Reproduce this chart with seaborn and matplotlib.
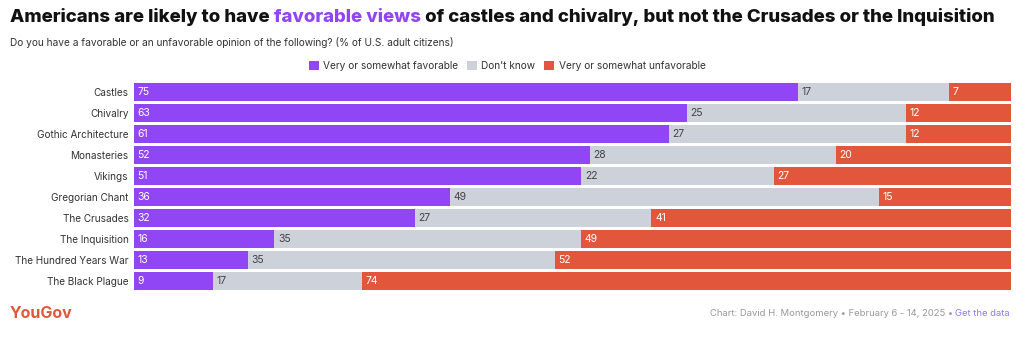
import matplotlib
matplotlib.use("Agg")
import matplotlib.pyplot as plt
import seaborn as sns
import pandas as pd
import numpy as np
from matplotlib.patches import Patch

categories = ["Castles", "Chivalry", "Gothic Architecture", "Monasteries", "Vikings",
              "Gregorian Chant", "The Crusades", "The Inquisition",
              "The Hundred Years War", "The Black Plague"]
favorable = [75, 63, 61, 52, 51, 36, 32, 16, 13, 9]
dont_know = [17, 25, 27, 28, 22, 49, 27, 35, 35, 17]
unfavorable = [7, 12, 12, 20, 27, 15, 41, 49, 52, 74]
series_names = ["Very or somewhat favorable", "Don't know", "Very or somewhat unfavorable"]

PURPLE = "#9146F5"
GRAY = "#CDD1DA"
RED = "#E2573B"

sns.set_theme(style="white")
plt.rcParams['font.family'] = ['Inter', 'DejaVu Sans']

fav = np.array(favorable, float)
dk = np.array(dont_know, float)
unf = np.array(unfavorable, float)
tot = fav + dk + unf
df = pd.DataFrame({
    "cat": categories,
    "c1": fav / tot * 100,
    "c2": (fav + dk) / tot * 100,
    "c3": np.full(len(categories), 100.0),
})

fig = plt.figure(figsize=(10.23, 3.4), dpi=100)
ax = fig.add_axes([134/1023, 1 - 291.5/340, (1011-134)/1023, 210/340])

for col, color in [("c3", RED), ("c2", GRAY), ("c1", PURPLE)]:
    sns.barplot(data=df, x=col, y="cat", color=color, orient="h", width=0.82,
                ax=ax, saturation=1, linewidth=0)

ax.set_xlim(0, 100)
ax.set_xlabel("")
ax.set_ylabel("")
ax.set_xticks([])
for s in ax.spines.values():
    s.set_visible(False)
ax.tick_params(axis="y", length=0, pad=4, labelsize=7.2, labelcolor="#333333")

starts = [np.zeros(len(categories)), df["c1"].values, df["c2"].values]
vals = [favorable, dont_know, unfavorable]
tcolors = ["white", "#444444", "white"]
for st, v, tc in zip(starts, vals, tcolors):
    for i in range(len(categories)):
        ax.text(st[i] + 0.4, i, str(v[i]), va="center", ha="left", fontsize=7.5, color=tc)

# Title with coloured segment, fitted to ~990 px
fig.canvas.draw()
renderer = fig.canvas.get_renderer()
parts = [("Americans are likely to have ", "#111111"), ("favorable views", PURPLE),
         (" of castles and chivalry, but not the Crusades or the Inquisition", "#111111")]
probe = fig.text(0, 0, "".join(p[0] for p in parts), fontsize=14, fontweight="heavy")
w = probe.get_window_extent(renderer).width
probe.remove()
fs = 14 * 990 / w
x = 10
for txt, c in parts:
    t = fig.text(x/1023, 1 - 17/340, txt, fontsize=fs, fontweight="heavy", color=c,
                 va="center", ha="left")
    bb = t.get_window_extent(renderer)
    x += bb.width

fig.text(10/1023, 1 - 43/340,
         "Do you have a favorable or an unfavorable opinion of the following? (% of U.S. adult citizens)",
         fontsize=7.3, color="#333333", va="center", ha="left")

# Legend
handles = [Patch(facecolor=c, edgecolor="none") for c in [PURPLE, GRAY, RED]]
fig.legend(handles, series_names, loc="center", bbox_to_anchor=(507/1023, 1 - 66/340),
           ncol=3, frameon=False, fontsize=7.3, handlelength=1.0, handleheight=1.0,
           handletextpad=0.4, columnspacing=0.9, labelcolor="#333333")

# Footer
fig.text(10/1023, 1 - 314/340, "YouGov", fontsize=11.5, fontweight="bold",
         color="#E0573B", va="center", ha="left")
fig.canvas.draw()
t2 = fig.text(1010/1023, 1 - 314/340, "Get the data", fontsize=6.8, color="#8A7CF0",
              va="center", ha="right")
bb = t2.get_window_extent(renderer)
fig.text(bb.x0/1023, 1 - 314/340, "Chart: David H. Montgomery \u2022 February 6 - 14, 2025 \u2022 ",
         fontsize=6.8, color="#999999", va="center", ha="right")

fig.savefig("out.png", dpi=100)
